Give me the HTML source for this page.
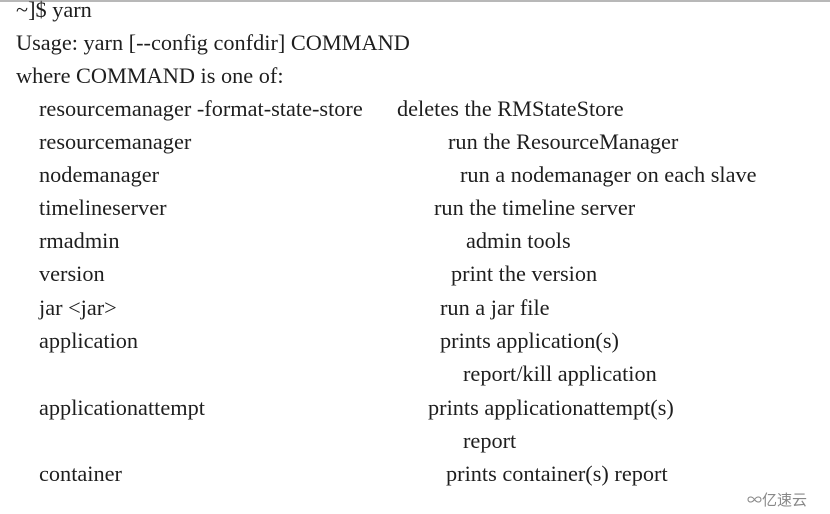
<!DOCTYPE html>
<html><head><style>
body{margin:0;width:830px;height:514px;background:#fff;overflow:hidden;position:relative;font-family:"Liberation Serif",serif;font-size:22.3px;color:#1e1e1e}
.t{position:absolute;white-space:pre;line-height:24px}
.top{position:absolute;left:0;top:0;width:830px;height:2px;background:#b8b8b8}
.wm{position:absolute;left:747px;top:492px;font-family:"Noto Sans CJK SC",sans-serif;font-size:15px;color:#888;line-height:16px}
</style></head><body>
<div class="top"></div>
<div class="t" style="left:16px;top:-2px">~]$ yarn</div>
<div class="t" style="left:16px;top:31px">Usage: yarn [--config confdir] COMMAND</div>
<div class="t" style="left:16px;top:64px">where COMMAND is one of:</div>
<div class="t" style="left:39px;top:97px">resourcemanager -format-state-store</div><div class="t" style="left:397px;top:97px">deletes the RMStateStore</div>
<div class="t" style="left:39px;top:130px">resourcemanager</div><div class="t" style="left:448px;top:130px">run the ResourceManager</div>
<div class="t" style="left:39px;top:163px">nodemanager</div><div class="t" style="left:460px;top:163px">run a nodemanager on each slave</div>
<div class="t" style="left:39px;top:196px">timelineserver</div><div class="t" style="left:434px;top:196px">run the timeline server</div>
<div class="t" style="left:39px;top:229px">rmadmin</div><div class="t" style="left:466px;top:229px">admin tools</div>
<div class="t" style="left:39px;top:262px">version</div><div class="t" style="left:451px;top:262px">print the version</div>
<div class="t" style="left:39px;top:296px">jar &lt;jar&gt;</div><div class="t" style="left:440px;top:296px">run a jar file</div>
<div class="t" style="left:39px;top:329px">application</div><div class="t" style="left:440px;top:329px">prints application(s)</div>
<div class="t" style="left:463px;top:362px">report/kill application</div>
<div class="t" style="left:39px;top:396px">applicationattempt</div><div class="t" style="left:428px;top:396px">prints applicationattempt(s)</div>
<div class="t" style="left:463px;top:429px">report</div>
<div class="t" style="left:39px;top:462px">container</div><div class="t" style="left:446px;top:462px">prints container(s) report</div>
<div class="wm">∞亿速云</div>
</body></html>
